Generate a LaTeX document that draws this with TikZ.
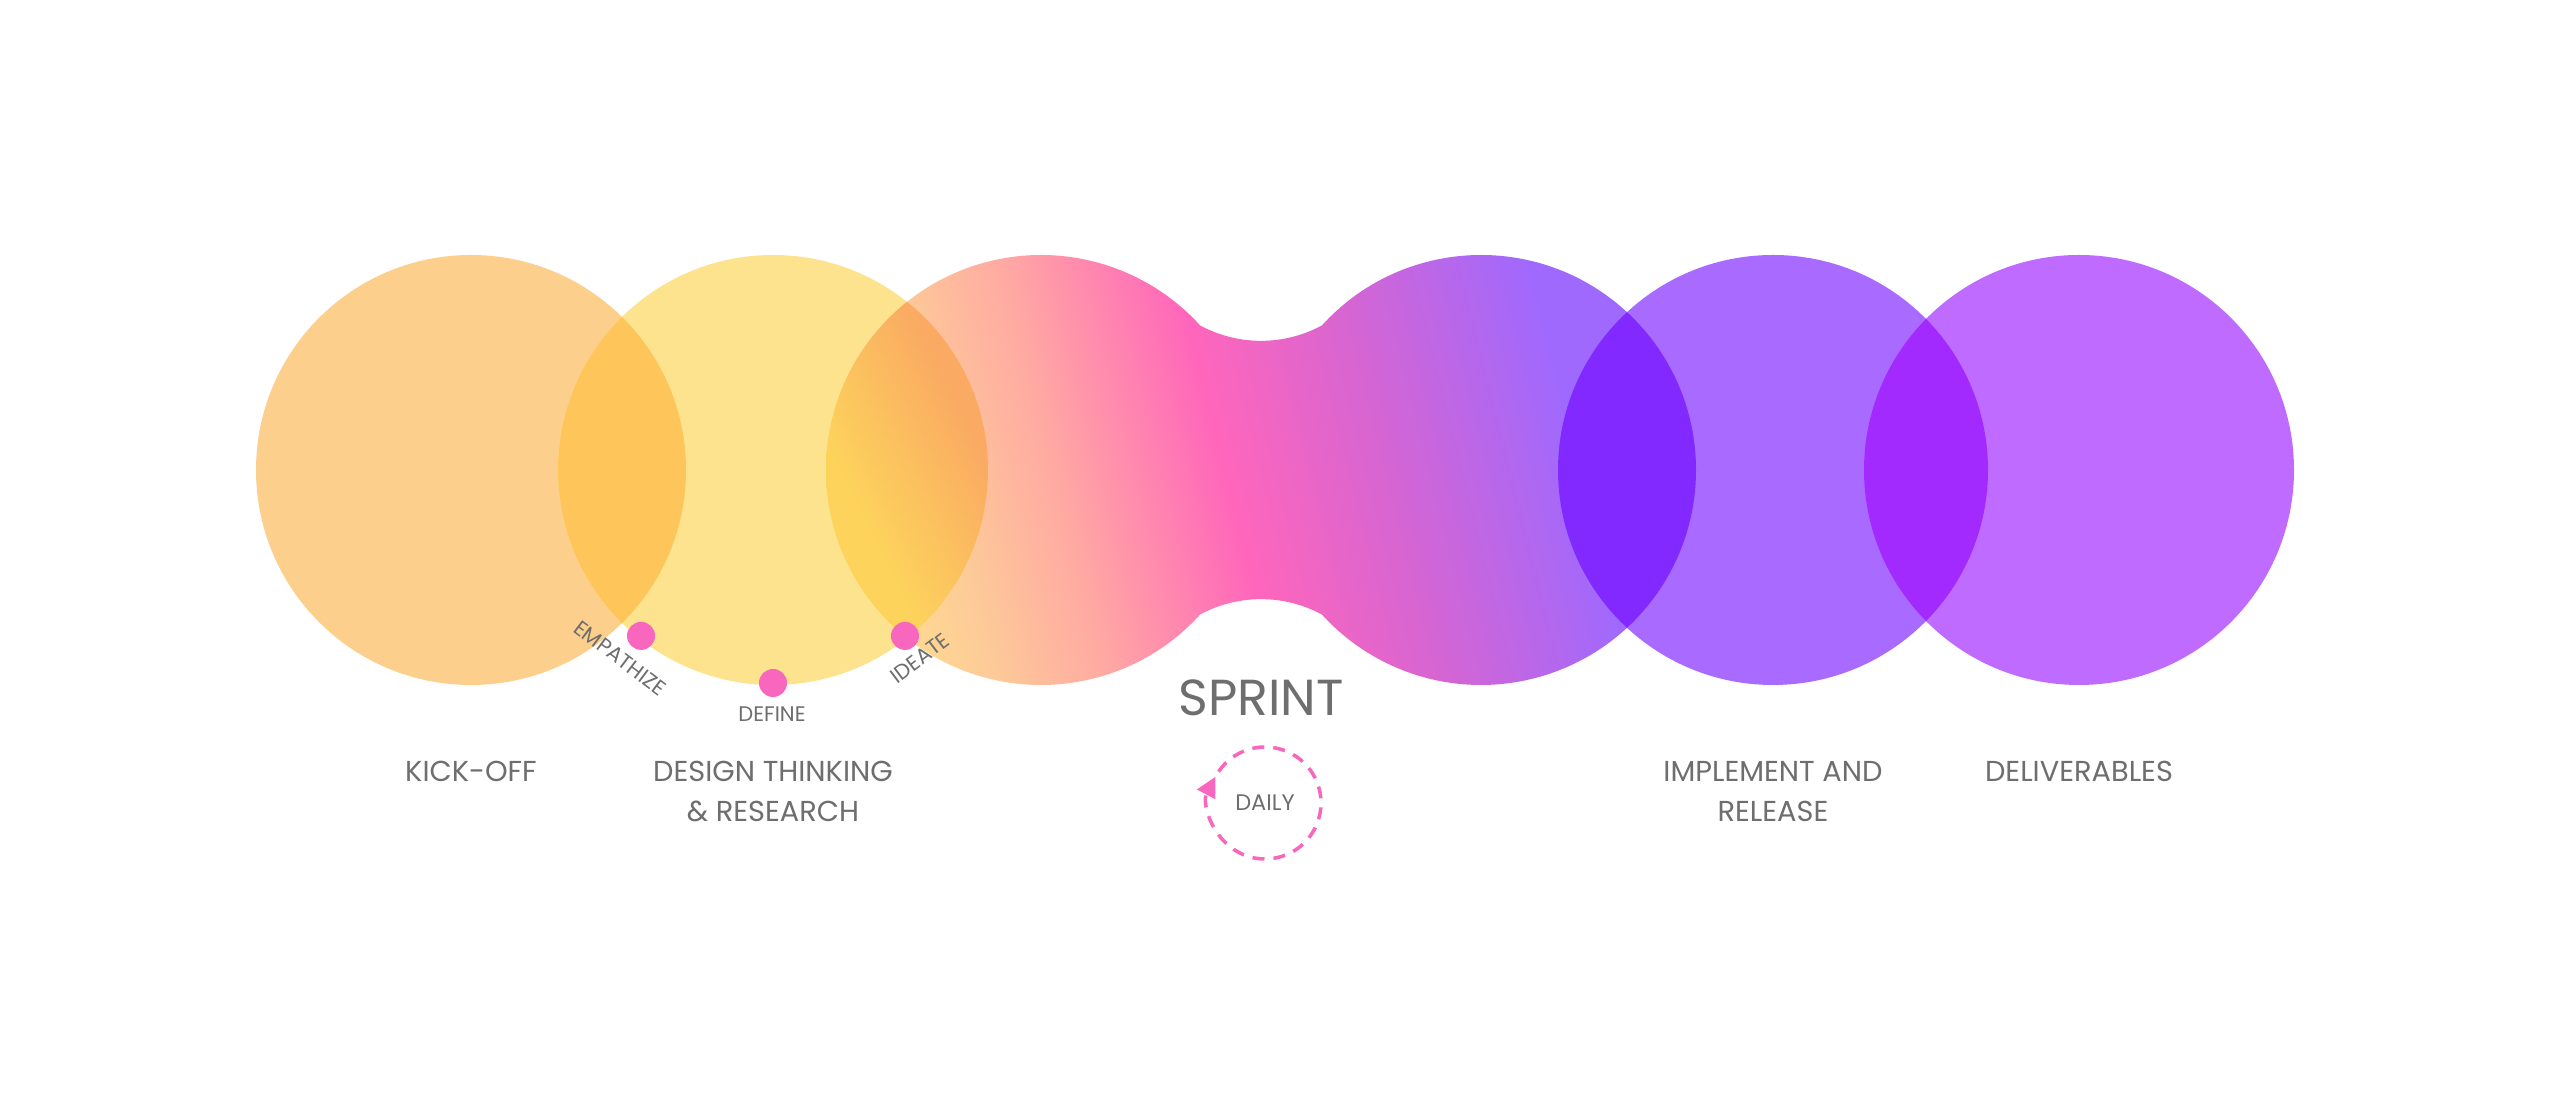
\documentclass[tikz,border=0pt]{standalone}
\usepackage{fontspec}
\setmainfont{Poppins}
\usetikzlibrary{arrows.meta}
\definecolor{kickoffc}{RGB}{253,207,140}
\definecolor{designc}{RGB}{253,227,141}
\definecolor{lensone}{RGB}{254,197,91}
\definecolor{implc}{RGB}{169,107,255}
\definecolor{delivc}{RGB}{191,107,255}
\definecolor{lensthree}{RGB}{130,41,255}
\definecolor{lensfour}{RGB}{162,42,255}
\definecolor{peach}{RGB}{255,222,142}
\definecolor{peachdark}{RGB}{253,203,152}
\definecolor{salmon}{RGB}{255,170,162}
\definecolor{hotpink}{RGB}{255,102,187}
\definecolor{orchid}{RGB}{213,101,211}
\definecolor{violet}{RGB}{159,105,254}
\definecolor{lensyellow}{RGB}{253,211,92}
\definecolor{lensorange}{RGB}{250,170,98}
\definecolor{dotpink}{RGB}{249,102,189}
\definecolor{labelgray}{RGB}{110,110,110}

\pgfdeclarehorizontalshading{sprintgrad}{100bp}{color(0bp)=(peach); color(24bp)=(peach); color(30bp)=(peachdark); color(37bp)=(salmon); color(47.7bp)=(hotpink); color(58bp)=(orchid); color(70bp)=(violet); color(100bp)=(violet)}
\pgfdeclarehorizontalshading{lensgrad}{100bp}{color(0bp)=(lensyellow); color(29bp)=(lensyellow); color(45bp)=(lensorange); color(100bp)=(lensorange)}

\begin{document}
\begin{tikzpicture}[
		x=0.01cm, y=0.01cm,
		phase label/.style={text=labelgray, align=center, font=\fontsize{8.2}{11.6}\selectfont},
		substep/.style={text=labelgray, font=\fontsize{6}{7}\selectfont},
		pinkdot/.style={circle, fill=dotpink, inner sep=0pt, minimum size=2.8mm},
		dailyring/.style={draw=dotpink, line width=1pt, dash pattern=on 1.2mm off 0.9mm}
		]
		\fill[white] (0,-646) rectangle (2550,470);
		\coordinate (c-kick) at (471,0);
		\coordinate (c-design) at (773,0);
		\coordinate (c-sprintL) at (1041,0);
		\coordinate (c-sprintR) at (1481,0);
		\coordinate (c-impl) at (1773,0);
		\coordinate (c-deliv) at (2079,0);
		\coordinate (c-daily) at (1265,-333);

		% stages
		\fill[kickoffc] (c-kick) circle[radius=215];
		\fill[designc] (c-design) circle[radius=215];
		\begin{scope}
			\clip (c-design) circle[radius=215];
			\fill[lensone] (c-kick) circle[radius=215];
		\end{scope}
		\begin{scope}
			\clip ([shift={(42.25:215)}]c-sprintL)
				arc[start angle=241.6, end angle=298.4, radius=128]
				arc[start angle=137.75, end angle=-137.75, radius=215]
				arc[start angle=61.6, end angle=118.4, radius=128]
				arc[start angle=-42.25, end angle=-317.75, radius=215] -- cycle;
			\shade[shading=sprintgrad, shading angle=14] (826,-215) rectangle (1696,215);
		\end{scope}
		\begin{scope}
			\clip (c-design) circle[radius=215];
			\clip (c-sprintL) circle[radius=215];
			\shade[shading=lensgrad, shading angle=27] (826,-215) rectangle (1256,215);
		\end{scope}
		\fill[implc] (c-impl) circle[radius=215];
		\fill[delivc] (c-deliv) circle[radius=215];
		\begin{scope}
			\clip (c-impl) circle[radius=215];
			\fill[lensthree] (c-sprintR) circle[radius=215];
		\end{scope}
		\begin{scope}
			\clip (c-deliv) circle[radius=215];
			\fill[lensfour] (c-impl) circle[radius=215];
		\end{scope}

		% design thinking steps
		\node[pinkdot] (dot-emp) at ([shift={(231.5:212)}]c-design) {};
		\node[pinkdot] (dot-def) at ([shift={(270:213)}]c-design) {};
		\node[pinkdot] (dot-ide) at ([shift={(308.5:212)}]c-design) {};
		\node[substep, rotate=-37] (empathize) at (620,-188) {EMPATHIZE};
		\node[substep] (define) at (772,-244) {DEFINE};
		\node[substep, rotate=37] (ideate) at (920,-188) {IDEATE};

		% labels
		\node[phase label] (kick) at (471,-301) {KICK-OFF};
		\node[phase label] (design) at (773,-321.5) {DESIGN THINKING\\\& RESEARCH};
		\node[phase label, font=\fontsize{14.4}{18}\selectfont] (sprint) at (1261,-228) {SPRINT};
		\node[substep, font=\fontsize{6.4}{8}\selectfont] (daily) at (c-daily) {DAILY};
		\node[phase label] (impl) at (1773,-321.5) {IMPLEMENT AND\\RELEASE};
		\node[phase label] (deliv) at (2079,-301) {DELIVERABLES};

		\draw[dailyring, -{Triangle[length=2mm, width=2mm]}] ([shift={(146:56)}]c-daily) arc[start angle=146, end angle=-208, radius=56];
	\end{tikzpicture}
\end{document}
